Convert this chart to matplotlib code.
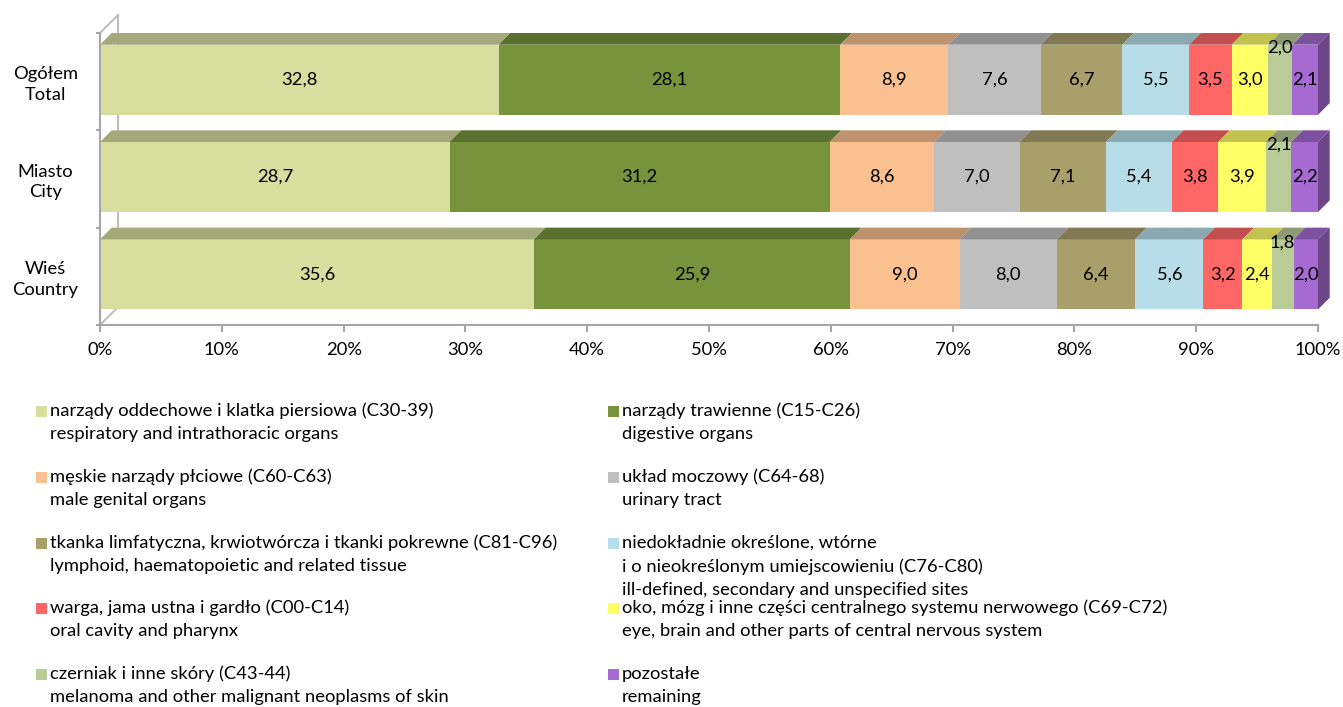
import numpy as np
import matplotlib
matplotlib.use("Agg")
import matplotlib.pyplot as plt
from matplotlib.patches import Polygon, Rectangle
from matplotlib.colors import to_rgb

plt.rcParams['font.family'] = ['Lato', 'DejaVu Sans']

# Dane: struktura zgonów na nowotwory (%)
kategorie = ["Ogółem\nTotal", "Miasto\nCity", "Wieś\nCountry"]
oddechowe = [32.8, 28.7, 35.6]
trawienne = [28.1, 31.2, 25.9]
meskie = [8.9, 8.6, 9.0]
moczowy = [7.6, 7.0, 8.0]
limfatyczna = [6.7, 7.1, 6.4]
niedokladne = [5.5, 5.4, 5.6]
warga = [3.5, 3.8, 3.2]
oko = [3.0, 3.9, 2.4]
czerniak = [2.0, 2.1, 1.8]
pozostale = [2.1, 2.2, 2.0]

serie = [oddechowe, trawienne, meskie, moczowy, limfatyczna,
         niedokladne, warga, oko, czerniak, pozostale]

nazwy = [
    "narządy oddechowe i klatka piersiowa (C30-39)\nrespiratory and intrathoracic organs",
    "narządy trawienne (C15-C26)\ndigestive organs",
    "męskie narządy płciowe (C60-C63)\nmale genital organs",
    "układ moczowy (C64-68)\nurinary tract",
    "tkanka limfatyczna, krwiotwórcza i tkanki pokrewne (C81-C96)\nlymphoid, haematopoietic and related tissue",
    "niedokładnie określone, wtórne\ni o nieokreślonym umiejscowieniu (C76-C80)\nill-defined, secondary and unspecified sites",
    "warga, jama ustna i gardło (C00-C14)\noral cavity and pharynx",
    "oko, mózg i inne części centralnego systemu nerwowego (C69-C72)\neye, brain and other parts of central nervous system",
    "czerniak i inne skóry (C43-44)\nmelanoma and other malignant neoplasms of skin",
    "pozostałe\nremaining",
]

kolory = ['#D7DE9E', '#77933C', '#FAC090', '#BFBFBF', '#A99F6B',
          '#B7DEE8', '#FF6666', '#FFFF66', '#B9CB97', '#A66BD2']

FS = 13.2
W, H = 1343, 707
fig = plt.figure(figsize=(W / 100, H / 100), dpi=100)

# obszar wykresu w pikselach: 0% -> x=100, 100% -> x=1318
ax = fig.add_axes([100 / W, (H - 325) / H, 1218 / W, 310 / H])
ax.set_xlim(0, 100)
ax.set_ylim(2.5, -0.685)

px_x = 1218 / 100.0
px_y = 310 / (2.5 + 0.685)
dx = 11.7 / px_x          # głębokość słupka (efekt 3D)
dy = 11.7 / px_y
wall_dx = 18 / px_x       # tylna ściana
wall_dy = 18 / px_y

szary = '#A6A6A6'
wys = 0.72
przes = -0.02


def ciemniej(c, f):
    r, g, b = to_rgb(c)
    return (r * f, g * f, b * f)


# tylna ściana
ax.plot([wall_dx, wall_dx], [-0.5 - wall_dy, 2.5 - wall_dy], color='#BDBDBD',
        lw=1.5, zorder=0, clip_on=False)
ax.plot([0, wall_dx], [-0.5, -0.5 - wall_dy], color='#BDBDBD', lw=1.5,
        zorder=0, clip_on=False)
ax.plot([0, wall_dx], [2.5, 2.5 - wall_dy], color='#BDBDBD', lw=1.5,
        zorder=0, clip_on=False)

y_pos = np.arange(len(kategorie)) + przes
dane = np.array(serie)
proc = dane / dane.sum(axis=0) * 100
lewo = np.zeros(len(kategorie))

for k, (wart, pr, kol) in enumerate(zip(dane, proc, kolory)):
    ax.barh(y_pos, pr, left=lewo, height=wys, color=kol, zorder=2)
    for i in range(len(kategorie)):
        L, w = lewo[i], pr[i]
        yt = y_pos[i] - wys / 2
        yb = y_pos[i] + wys / 2
        gora = Polygon([(L, yt), (L + w, yt), (L + w + dx, yt - dy), (L + dx, yt - dy)],
                       closed=True, facecolor=ciemniej(kol, 0.76), edgecolor='none',
                       zorder=2, clip_on=False)
        ax.add_patch(gora)
        if k == len(serie) - 1:
            bok = Polygon([(L + w, yt), (L + w, yb), (L + w + dx, yb - dy), (L + w + dx, yt - dy)],
                          closed=True, facecolor=ciemniej(kol, 0.65), edgecolor='none',
                          zorder=2, clip_on=False)
            ax.add_patch(bok)
        tekst = f"{wart[i]:.1f}".replace('.', ',')
        yl = y_pos[i] - 0.33 if k == 8 else y_pos[i]
        ax.text(L + w / 2, yl, tekst, ha='center', va='center', fontsize=FS,
                color='black', zorder=5)
    lewo += pr

# osie
for s in ['top', 'right']:
    ax.spines[s].set_visible(False)
ax.spines['bottom'].set_color(szary)
ax.spines['bottom'].set_linewidth(1.5)
ax.spines['left'].set_color(szary)
ax.spines['left'].set_linewidth(1.5)
ax.spines['left'].set_bounds(-0.5, 2.5)
ax.set_xticks(np.arange(0, 101, 10))
ax.set_xticklabels([f"{v}%" for v in range(0, 101, 10)], fontsize=FS)
ax.tick_params(axis='x', direction='out', length=5, width=1.5, color=szary, pad=7)
ax.set_yticks([])
ax.set_yticks([-0.5, 0.5, 1.5, 2.5], minor=True)
ax.tick_params(axis='y', which='minor', direction='out', length=3, width=1.5, color=szary)
ax.patch.set_alpha(0)

for i, kat in enumerate(kategorie):
    ax.text(-4.5, y_pos[i] + 0.05, kat, ha='center', va='center', fontsize=FS,
            linespacing=1.35, clip_on=False)

# legenda w dwóch kolumnach
kol_x = [36, 608]
rzad_y = [411, 477, 543, 608, 674]
for k, (nazwa, kol) in enumerate(zip(nazwy, kolory)):
    x0 = kol_x[k % 2]
    y0 = rzad_y[k // 2]
    fig.add_artist(Rectangle((x0 / W, 1 - (y0 + 5.5) / H), 11 / W, 11 / H,
                             transform=fig.transFigure, facecolor=kol, edgecolor='none'))
    for j, linia in enumerate(nazwa.split('\n')):
        fig.text((x0 + 14) / W, 1 - (y0 + j * 23.3) / H, linia, ha='left', va='center',
                 fontsize=FS)

fig.savefig('out.png', dpi=100)
